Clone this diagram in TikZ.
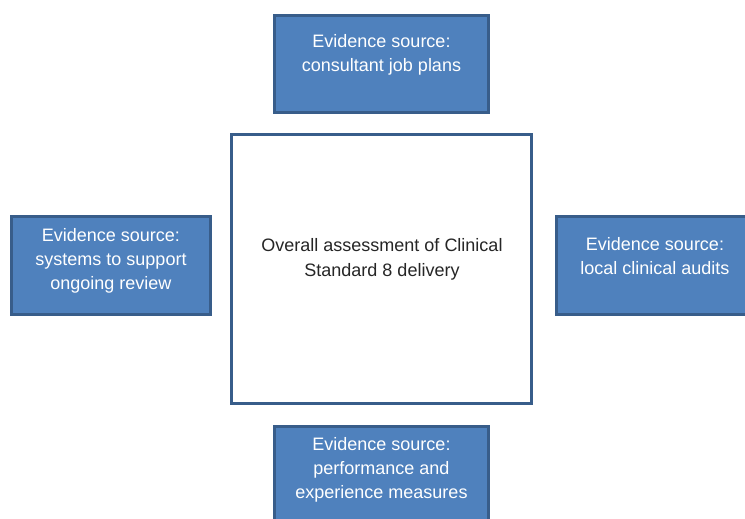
\documentclass[tikz,border=0pt]{standalone}
\usepackage{fontspec}
\setmainfont{Liberation Sans}
\usepackage{xcolor}
\usepackage{tikz}
\usetikzlibrary{calc}

\definecolor{srcblue}{HTML}{4F81BD}
\definecolor{srcline}{HTML}{385D8A}

\begin{document}
\begin{tikzpicture}[x=1pt,y=-1pt,
		srcbox/.style={draw=srcline,line width=3pt,fill=srcblue,inner sep=0pt},
		mainbox/.style={draw=srcline,line width=3pt,fill=white,inner sep=0pt},
		srctext/.style={text=white,align=center,font=\fontsize{18}{24}\selectfont},
		maintext/.style={text=black!85,align=center,font=\fontsize{18}{24.5}\selectfont}]
			\useasboundingbox (0,0) rectangle (745,519);
			
			% overall assessment in the middle
			\node[mainbox,minimum width=300pt,minimum height=269pt] (main) at (381.5,269) {};
			\node[maintext] (t0) at (382,259.5) {Overall assessment of Clinical\\Standard 8 delivery};
			
			% the four evidence sources round it
			\node[srcbox,minimum width=214pt,minimum height=97pt] (top) at (381.5,64) {};
			\node[srctext] (t1) at (381.5,55) {Evidence source:\\consultant job plans};
			
			\node[srcbox,minimum width=199pt,minimum height=98pt] (left) at (111,265.5) {};
			\node[srctext] (t2) at (111,261) {Evidence source:\\systems to support\\ongoing review};
			
			\node[srcbox,minimum width=199pt,minimum height=98pt] (right) at (656,265.5) {};
			\node[srctext] (t3) at (655,256.5) {Evidence source:\\local clinical audits};
			
			\node[srcbox,minimum width=214pt,minimum height=97pt] (bottom) at (381.5,475) {};
			\node[srctext] (t4) at (381.5,470) {Evidence source:\\performance and\\experience measures};
		\end{tikzpicture}
\end{document}
